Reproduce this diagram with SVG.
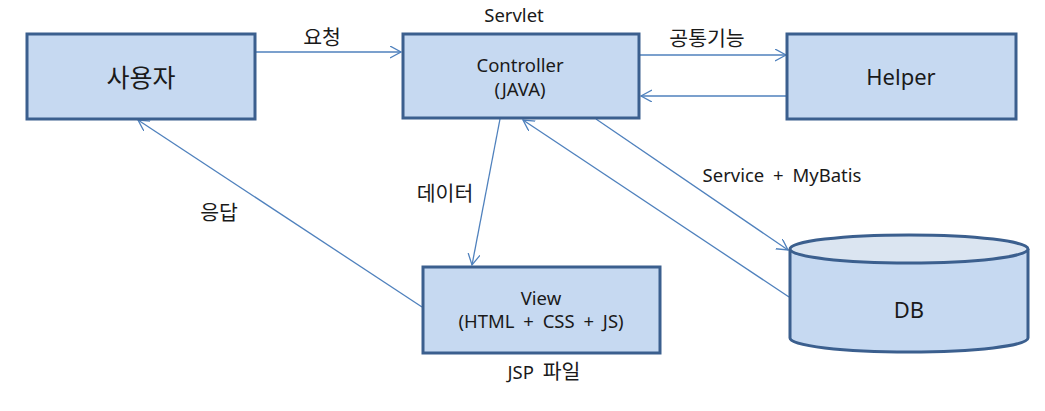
<svg xmlns="http://www.w3.org/2000/svg" width="1045" height="411" viewBox="0 0 1045 411">
<style>
.box{fill:#c6d9f1;stroke:#3b5f8e;stroke-width:3}
.top{fill:#dbe5f1;stroke:#3b5f8e;stroke-width:3}
.line{fill:none;stroke:#4f81bd;stroke-width:1.3;marker-end:url(#arr)}
.t{font-family:"Noto Sans","Noto Sans CJK KR",sans-serif;fill:#1a1a1a;text-anchor:middle}
.big{font-size:22px}
.bigk{font-size:25px}
.mid{font-size:18.5px;word-spacing:4px}
.midk{font-size:20.5px}
</style>
<defs>
<marker id="arr" markerUnits="userSpaceOnUse" markerWidth="14" markerHeight="14" refX="11" refY="6" orient="auto">
<path d="M0,0 L11,6 L0,12" fill="none" stroke="#4f81bd" stroke-width="1.3"/>
</marker>
</defs>
<g id="connectors">
<line class="line" x1="255" y1="52" x2="401" y2="52"/>
<line class="line" x1="639" y1="55" x2="786" y2="55"/>
<line class="line" x1="787" y1="96" x2="641" y2="96"/>
<line class="line" x1="500" y1="119" x2="472" y2="265"/>
<line class="line" x1="422" y1="307" x2="138" y2="120"/>
<line class="line" x1="596" y1="119" x2="788" y2="250"/>
<line class="line" x1="789" y1="297" x2="523" y2="120"/>
<text class="t midk" x="322" y="45">요청</text>
<text class="t midk" x="707" y="46">공통기능</text>
<text class="t midk" x="219" y="220">응답</text>
<text class="t midk" x="445" y="201">데이터</text>
<text class="t mid" x="782" y="182">Service + MyBatis</text>
</g>
<g id="user">
<rect class="box" x="27" y="34" width="228" height="85"/>
<text class="t bigk" x="141" y="87">사용자</text>
</g>
<g id="controller">
<text class="t mid" x="514" y="22">Servlet</text>
<rect class="box" x="403" y="34" width="236" height="84"/>
<text class="t mid" x="520" y="72">Controller</text>
<text class="t mid" x="520" y="96">(JAVA)</text>
</g>
<g id="helper">
<rect class="box" x="787" y="34" width="229" height="85"/>
<text class="t big" x="901" y="85">Helper</text>
</g>
<g id="view">
<rect class="box" x="423" y="267" width="237" height="86"/>
<text class="t mid" x="541" y="305">View</text>
<text class="t mid" x="541" y="328">(HTML + CSS + JS)</text>
<text class="t mid" x="544" y="379"><tspan>JSP </tspan><tspan style="font-size:20.5px">파일</tspan></text>
</g>
<g id="db">
<path class="box" d="M790,249 L790,338 A119,14 0 0 0 1028,338 L1028,249"/>
<ellipse class="top" cx="909" cy="249" rx="119" ry="14"/>
<text class="t big" x="909" y="318">DB</text>
</g>
</svg>
